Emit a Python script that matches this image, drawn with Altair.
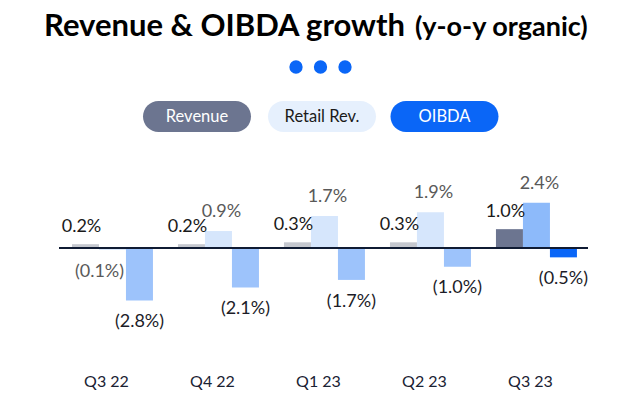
import altair as alt
import pandas as pd

# ---------------- data ----------------
quarters = ["Q3 22", "Q4 22", "Q1 23", "Q2 23", "Q3 23"]
series = ["Revenue", "Retail Rev.", "OIBDA"]
revenue = [0.2, 0.2, 0.3, 0.3, 1.0]
retail_rev = [-0.1, 0.9, 1.7, 1.9, 2.4]
oibda = [-2.8, -2.1, -1.7, -1.0, -0.5]

title_main = "Revenue & OIBDA growth"
title_sub = "(y-o-y organic)"

rows = []
for s, vals in zip(series, [revenue, retail_rev, oibda]):
    for q, v in zip(quarters, vals):
        rows.append({"quarter": q, "series": s, "value": v})
df = pd.DataFrame(rows)

# ---------------- styles ----------------
FONT = "Lato"
latest = quarters[-1]
bar_keys = [f"{s}|{k}" for s in series for k in ("lo", "hi")]
bar_colors = ["#c5c8cf", "#6c7590", "#d6e6fc", "#8dbafa", "#9dc3fb", "#0a66f7"]
pill_fill = ["#6c7590", "#e6f0fd", "#0a66f7"]
pill_text = ["#ffffff", "#1a1a1a", "#ffffff"]
pill_cx = [197, 322, 444.5]
PILL_W = 108

yscale = alt.Scale(domain=[-8.62, 13.19], nice=False, zero=False)
xscale = alt.Scale(paddingInner=0.236, paddingOuter=0.637, align=0.533)
x_enc = alt.X("quarter:N", sort=quarters, scale=xscale, axis=None)
xo_enc = alt.XOffset("series:N", sort=series, scale=alt.Scale(paddingInner=0, paddingOuter=0))

base = alt.Chart(df).transform_calculate(
    key=f"datum.series + (datum.quarter == '{latest}' ? '|hi' : '|lo')",
    label="datum.value < 0 ? '(' + format(abs(datum.value), '.1f') + '%)' : format(datum.value, '.1f') + '%'",
)

bars = base.mark_bar(size=27).encode(
    x=x_enc,
    xOffset=xo_enc,
    y=alt.Y("value:Q", scale=yscale, axis=None),
    y2=alt.datum(0),
    color=alt.Color("key:N", scale=alt.Scale(domain=bar_keys, range=bar_colors), legend=None),
)

def labels(name, sign, off, dx, color):
    cond = (alt.datum.value >= 0) if sign > 0 else (alt.datum.value < 0)
    return base.transform_filter(alt.datum.series == name).transform_filter(cond).transform_calculate(
        ly=f"datum.value + {sign * off}"
    ).mark_text(font=FONT, fontSize=18, baseline="middle", dx=dx, color=color).encode(
        x=x_enc,
        xOffset=xo_enc,
        y=alt.Y("ly:Q", scale=yscale, axis=None),
        text="label:N",
    )

lab_rev = labels("Revenue", 1, 0.9, -4, "#1a1a1a")
lab_ret_p = labels("Retail Rev.", 1, 1.0, 3, "#595959")
lab_ret_n = labels("Retail Rev.", -1, 1.2, -13, "#595959")
lab_oib = labels("OIBDA", -1, 1.15, 0, "#1c1c28")

zero_line = alt.Chart(pd.DataFrame({"z": [0]})).mark_rule(
    color="#0f1b33", strokeWidth=2
).encode(y=alt.Y("z:Q", scale=yscale, axis=None), x=alt.value(59), x2=alt.value(588))

qdf = pd.DataFrame({"quarter": quarters})
qlabels = alt.Chart(qdf).mark_text(
    font=FONT, fontSize=16, color="#1a2233", dx=-6, baseline="middle"
).encode(x=x_enc, y=alt.value(382), text="quarter:N")

one = pd.DataFrame({"a": [0]})
t1 = alt.Chart(one).mark_text(
    font=FONT, fontSize=31, fontWeight="bold", align="right", baseline="alphabetic", color="#000000"
).encode(x=alt.value(405), y=alt.value(36), text=alt.value(title_main))
t2 = alt.Chart(one).mark_text(
    font=FONT, fontSize=27, fontWeight="bold", align="left", baseline="alphabetic", color="#000000"
).encode(x=alt.value(415), y=alt.value(36), text=alt.value(title_sub))

dots = alt.Chart(pd.DataFrame({"cx": [296, 320.5, 345]})).mark_circle(
    size=177, color="#0a66f7", opacity=1
).encode(x=alt.X("cx:Q", scale=None), y=alt.value(67))

ldf = pd.DataFrame({"series": series, "cx": pill_cx, "fill": pill_fill, "tc": pill_text})
pills = alt.Chart(ldf).transform_calculate(
    x0=f"datum.cx - {PILL_W / 2}", x1=f"datum.cx + {PILL_W / 2}"
).mark_rect(cornerRadius=15.5).encode(
    x=alt.X("x0:Q", scale=None), x2="x1:Q",
    y=alt.value(101), y2=alt.value(132),
    color=alt.Color("fill:N", scale=None),
)
pill_txt = alt.Chart(ldf).mark_text(font=FONT, fontSize=16.5, baseline="middle").encode(
    x=alt.X("cx:Q", scale=None), y=alt.value(117), text="series:N",
    color=alt.Color("tc:N", scale=None),
)

chart = alt.layer(
    bars, zero_line, lab_rev, lab_ret_p, lab_ret_n, lab_oib, qlabels, t1, t2, dots, pills, pill_txt
).properties(
    width=640, height=410, autosize=alt.AutoSizeParams(type="none"), padding=0,
    background="#ffffff",
).configure_view(stroke=None)

chart.save("out.html", embed_options={"renderer": "svg", "actions": False})
